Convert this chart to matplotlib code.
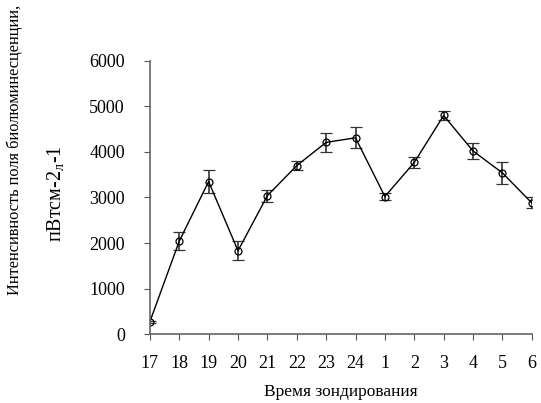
import matplotlib.pyplot as plt

plt.rcParams['font.family'] = ['Liberation Serif', 'DejaVu Serif']
plt.rcParams['mathtext.fontset'] = 'custom'
plt.rcParams['mathtext.rm'] = 'Liberation Serif'

hours = ['17', '18', '19', '20', '21', '22', '23', '24', '1', '2', '3', '4', '5', '6']
intensity = [270, 2040, 3350, 1830, 3040, 3700, 4210, 4310, 3020, 3770, 4800, 4020, 3540, 2880]
errors = [25, 195, 255, 210, 130, 95, 215, 230, 80, 125, 95, 185, 245, 120]

fig = plt.figure(figsize=(5.41, 4.03), dpi=100)
ax = fig.add_axes([0.277, 0.171, 0.706, 0.678])

x = list(range(len(hours)))
ax.errorbar(x, intensity, yerr=errors, color='black', lw=1,
            ecolor='#333333', elinewidth=1.2, capsize=4, capthick=1.2,
            marker='o', markersize=5, markerfacecolor='none',
            markeredgecolor='black', markeredgewidth=0.9)

ax.set_xlim(0, len(hours) - 1)
ax.set_ylim(0, 6000)
ax.set_xticks(x)
ax.set_xticklabels(hours)
ax.set_yticks(range(0, 6001, 1000))
ax.tick_params(labelsize=13, direction='out', length=4, color='#555555')
ax.tick_params(axis='x', pad=11)
ax.tick_params(axis='y', pad=14)
for s in ['top', 'right']:
    ax.spines[s].set_visible(False)
for s in ['left', 'bottom']:
    ax.spines[s].set_color('#666666')
    ax.spines[s].set_linewidth(1.2)

ax.set_xlabel('Время зондирования', fontsize=12.5, labelpad=9)
fig.text(0.028, 0.628, 'Интенсивность поля биолюминесценции,', rotation=90,
         fontsize=11.8, ha='center', va='center')
fig.text(0.104, 0.519, 'пВтсм-2$_\\mathregular{л}$-1', rotation=90,
         fontsize=14.5, ha='center', va='center')

fig.savefig('out.png', dpi=100)
